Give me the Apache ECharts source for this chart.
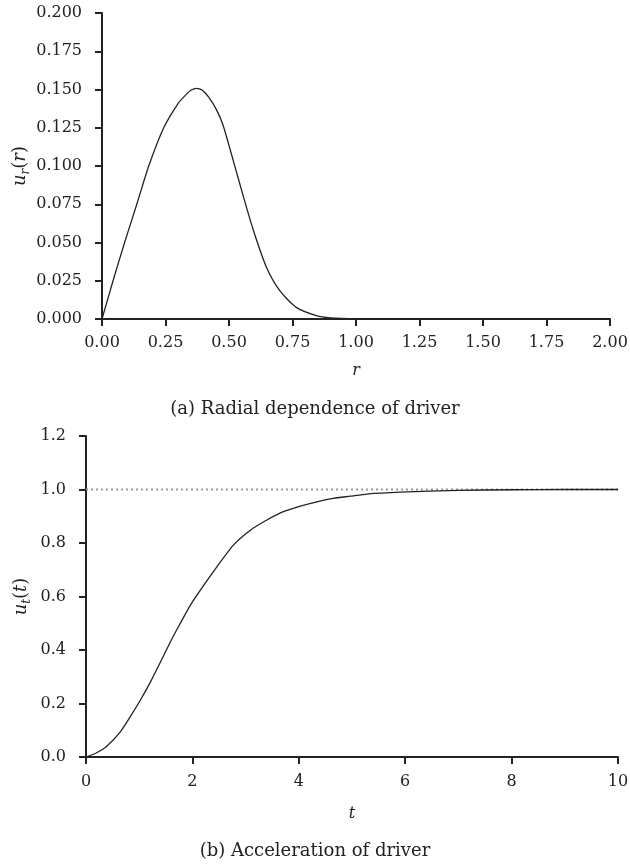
<!DOCTYPE html>
<html>
<head>
<meta charset="utf-8">
<script src="https://cdn.jsdelivr.net/npm/echarts@6/dist/echarts.min.js"></script>
<style>
	html, body { margin: 0; padding: 0; background: #fff; }
	#chart { width: 630px; height: 864px; }
</style>
</head>
<body>
<div id="chart"></div>
<script>
	// (a) radial dependence u_r(r)
	var radialR = [0, 0.0435, 0.089, 0.137, 0.184, 0.243, 0.30, 0.33, 0.35, 0.372, 0.395, 0.42, 0.45, 0.476, 0.516, 0.555, 0.594, 0.647, 0.70, 0.765, 0.844, 0.90, 1.0, 1.25, 1.5, 1.75, 2.0];
	var radialU = [0, 0.025, 0.05, 0.075, 0.100, 0.125, 0.141, 0.1465, 0.1495, 0.1508, 0.1495, 0.145, 0.137, 0.127, 0.104, 0.081, 0.059, 0.034, 0.0185, 0.0076, 0.0022, 0.0007, 0.0001, 0, 0, 0, 0];

	// (b) acceleration u_t(t)
	var accT = [0, 0.175, 0.39, 0.645, 0.83, 1.02, 1.21, 1.40, 1.585, 1.77, 1.96, 2.15, 2.46, 2.77, 3.09, 3.40, 3.71, 4.03, 4.34, 4.65, 4.97, 5.28, 5.91, 7, 8, 9, 10];
	var accU = [0, 0.013, 0.04, 0.094, 0.15, 0.212, 0.28, 0.355, 0.43, 0.499, 0.567, 0.624, 0.711, 0.792, 0.848, 0.886, 0.917, 0.938, 0.954, 0.967, 0.975, 0.983, 0.99, 0.997, 0.999, 1.0, 1.0];

	// dotted reference level
	var refT = [0, 10];
	var refU = [1, 1];

	var captions = ['(a) Radial dependence of driver', '(b) Acceleration of driver'];

	var font = '"DejaVu Serif", "Liberation Serif", serif';
	var ink = '#222';
	var fs = 16;

	function pairs(xs, ys) {
		return xs.map(function (x, i) { return [x, ys[i]]; });
	}

	// 轴的公共样式
	function axisStyle() {
		return {
			axisLine: { show: true, lineStyle: { color: ink, width: 2 } },
			axisTick: { show: true, length: 7, lineStyle: { color: ink, width: 2 } },
			splitLine: { show: false },
			nameMoveOverlap: false,
		};
	}

	var richName = {
		i: { fontFamily: font, fontStyle: 'italic', fontSize: 18, color: ink, lineHeight: 24 },
		n: { fontFamily: font, fontSize: 18, color: ink, lineHeight: 24 },
		s: { fontFamily: font, fontStyle: 'italic', fontSize: 12, color: ink, lineHeight: 12, verticalAlign: 'bottom' },
	};

	var chart = echarts.init(document.getElementById('chart'));

	chart.setOption({
		animation: false,
		grid: [
			{ left: 102, right: 20, top: 13, height: 306, outerBoundsMode: 'none' },
			{ left: 86, right: 12, top: 436, height: 321, outerBoundsMode: 'none' },
		],
		xAxis: [
			Object.assign({}, axisStyle(), {
				gridIndex: 0, type: 'value', min: 0, max: 2, interval: 0.25,
				name: 'r', nameLocation: 'middle', nameGap: 44,
				nameTextStyle: { fontFamily: font, fontStyle: 'italic', fontSize: fs, color: ink },
				axisLabel: {
					margin: 16, fontFamily: font, fontSize: fs, color: ink,
					formatter: function (v) { return v.toFixed(2); }
				},
			}),
			Object.assign({}, axisStyle(), {
				gridIndex: 1, type: 'value', min: 0, max: 10, interval: 2,
				name: 't', nameLocation: 'middle', nameGap: 49,
				nameTextStyle: { fontFamily: font, fontStyle: 'italic', fontSize: fs, color: ink },
				axisLabel: { margin: 17, fontFamily: font, fontSize: fs, color: ink },
			}),
		],
		yAxis: [
			Object.assign({}, axisStyle(), {
				gridIndex: 0, type: 'value', min: 0, max: 0.2, interval: 0.025,
				name: '{i|u}{s|r}{n|(}{i|r}{n|)}', nameLocation: 'middle', nameGap: 70, nameRotate: 90,
				nameTextStyle: { rich: richName },
				axisLabel: {
					margin: 20, fontFamily: font, fontSize: fs, color: ink,
					formatter: function (v) { return v.toFixed(3); }
				},
			}),
			Object.assign({}, axisStyle(), {
				gridIndex: 1, type: 'value', min: 0, max: 1.2, interval: 0.2,
				name: '{i|u}{s|t}{n|(}{i|t}{n|)}', nameLocation: 'middle', nameGap: 53, nameRotate: 90,
				nameTextStyle: { rich: richName },
				axisLabel: {
					margin: 20, fontFamily: font, fontSize: fs, color: ink,
					formatter: function (v) { return v.toFixed(1); }
				},
			}),
		],
		series: [
			{
				type: 'line', xAxisIndex: 0, yAxisIndex: 0,
				data: pairs(radialR, radialU), showSymbol: false,
				smooth: 0.25,
				lineStyle: { color: ink, width: 1.3 },
			},
			{
				type: 'line', xAxisIndex: 1, yAxisIndex: 1,
				data: pairs(refT, refU), showSymbol: false,
				lineStyle: { color: '#999', width: 2, type: [2, 3] },
			},
			{
				type: 'line', xAxisIndex: 1, yAxisIndex: 1,
				data: pairs(accT, accU), showSymbol: false,
				smooth: 0.2,
				lineStyle: { color: ink, width: 1.3 },
			},
		],
		graphic: [
			{
				type: 'text', left: 'center', top: 400,
				style: { text: captions[0], font: '18px ' + font, fill: ink },
			},
			{
				type: 'text', left: 'center', top: 842,
				style: { text: captions[1], font: '18px ' + font, fill: ink },
			},
		],
	});
</script>
</body>
</html>
